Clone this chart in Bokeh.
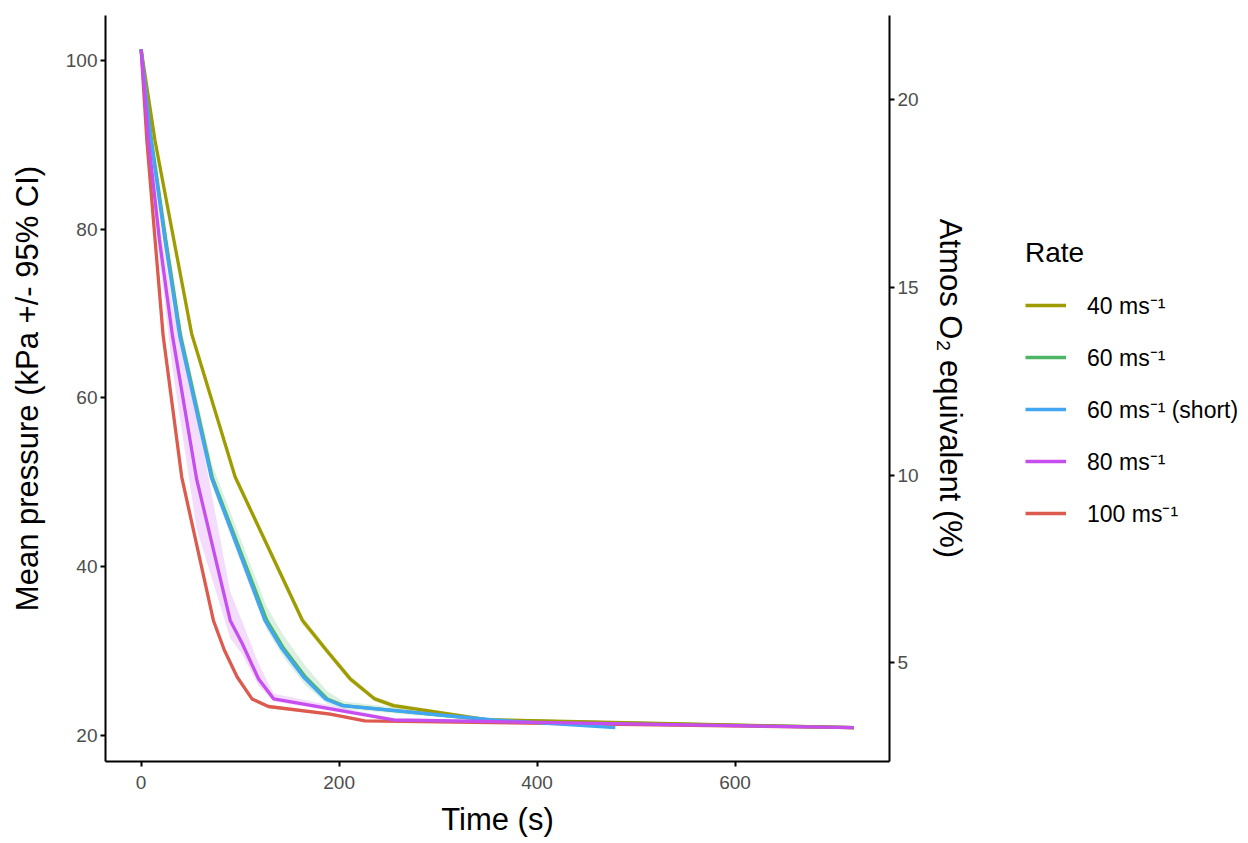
from bokeh.plotting import figure
from bokeh.layouts import row
from bokeh.models import Range1d, LinearAxis, Legend, LegendItem, FixedTicker
from bokeh.embed import file_html
from bokeh.resources import INLINE

# ---- data ----
rate_labels = ["40 ms⁻¹", "60 ms⁻¹", "60 ms⁻¹ (short)", "80 ms⁻¹", "100 ms⁻¹"]
rate_colors = ["#9E9C00", "#4DB666", "#43A6F2", "#C64EEF", "#DC5A4E"]

t40 = [0, 14, 51, 95, 163, 187, 211, 236, 255, 349, 720]
p40 = [101.3, 90.5, 67.6, 50.6, 33.6, 30.1, 26.7, 24.3, 23.5, 21.85, 20.9]
lo40 = [101.3, 90.1, 67.1, 50.1, 33.1, 29.7, 26.3, 24.0, 23.2, 21.7, 20.8]
hi40 = [101.3, 90.9, 68.1, 51.1, 34.1, 30.5, 27.1, 24.6, 23.8, 22.0, 21.0]

t60 = [0, 10.5, 25, 40, 72, 127, 144, 166, 188, 205, 356, 720]
p60 = [101.3, 90.5, 78.7, 67.3, 50.5, 33.6, 30.3, 26.9, 24.3, 23.5, 21.75, 20.9]
lo60 = [101.3, 90.0, 78.0, 66.5, 49.5, 32.5, 29.2, 25.9, 23.7, 23.1, 21.6, 20.8]
hi60 = [101.3, 91.0, 79.5, 68.3, 52.0, 35.2, 31.8, 28.2, 25.2, 24.0, 21.9, 21.0]

t60s = [0, 10, 24, 39, 71, 125, 142, 164, 186, 203, 356, 479]
p60s = [101.3, 90.5, 78.7, 67.3, 50.5, 33.6, 30.3, 26.9, 24.3, 23.5, 21.8, 20.9]

t80 = [0, 7.4, 18.5, 31.6, 56, 90, 102, 118.5, 134, 255, 720]
p80 = [101.3, 90.5, 78.7, 67.4, 50.4, 33.6, 30.9, 26.7, 24.3, 21.8, 20.9]
lo80 = [101.3, 89.5, 76.5, 63.5, 44.5, 31.5, 29.6, 25.9, 24.0, 21.7, 20.8]
hi80 = [101.3, 91.5, 81.0, 71.0, 58.0, 37.0, 33.5, 28.5, 24.9, 22.0, 21.0]

t100 = [0, 5.8, 14.1, 22.2, 41, 73, 84, 97, 112, 128.5, 191, 226, 720]
p100 = [101.3, 90.5, 78.7, 67.4, 50.6, 33.6, 30.1, 26.9, 24.3, 23.4, 22.5, 21.7, 20.9]
lo100 = [101.3, 90.2, 78.4, 67.1, 50.3, 33.3, 29.8, 26.6, 24.1, 23.2, 22.3, 21.6, 20.8]
hi100 = [101.3, 90.8, 79.0, 67.7, 50.9, 33.9, 30.4, 27.2, 24.5, 23.6, 22.7, 21.8, 21.0]

x_ticks = [0, 200, 400, 600]
y_ticks = [20, 40, 60, 80, 100]
o2_ticks = [5, 10, 15, 20]

FONT = "Liberation Sans"

p = figure(width=1000, height=841, output_backend="svg", toolbar_location=None,
           x_range=Range1d(-36, 756), y_range=Range1d(16.88, 105.32),
           min_border_left=105, min_border_right=111, min_border_top=15, min_border_bottom=80)
p.extra_y_ranges = {"o2": Range1d(2.37, 22.24)}
p.outline_line_color = None
p.background_fill_color = "white"
p.border_fill_color = "white"
p.xgrid.visible = False
p.ygrid.visible = False

# ribbons
ribbons = [(t40, lo40, hi40, 0), (t60, lo60, hi60, 1), (t80, lo80, hi80, 3), (t100, lo100, hi100, 4)]
for tt, lo, hi, ci in ribbons:
    p.varea(x=tt, y1=lo, y2=hi, fill_color=rate_colors[ci], fill_alpha=0.2)

lw = 3.3
p.line(t100, p100, line_color=rate_colors[4], line_width=lw)
p.line(t60, p60, line_color=rate_colors[1], line_width=lw)
p.line(t40, p40, line_color=rate_colors[0], line_width=lw)
p.line(t60s, p60s, line_color=rate_colors[2], line_width=lw)
p.line(t80, p80, line_color=rate_colors[3], line_width=lw)

def style_axis(ax, ticks):
    ax.ticker = FixedTicker(ticks=ticks)
    ax.axis_line_color = "black"
    ax.axis_line_width = 2
    ax.major_tick_line_color = "black"
    ax.major_tick_line_width = 2
    ax.major_tick_out = 5
    ax.major_tick_in = 0
    ax.minor_tick_line_color = None
    ax.major_label_text_font = FONT
    ax.major_label_text_font_size = "19px"
    ax.major_label_text_color = "#4D4D4D"
    ax.axis_label_text_font = FONT
    ax.axis_label_text_font_size = "31px"
    ax.axis_label_text_font_style = "normal"
    ax.axis_label_text_color = "black"

xa = p.xaxis[0]
style_axis(xa, x_ticks)
xa.axis_label = "Time (s)"
xa.major_label_standoff = 9
xa.axis_label_standoff = 10

ya = p.yaxis[0]
style_axis(ya, y_ticks)
ya.axis_label = "Mean pressure (kPa +/- 95% CI)"
ya.major_label_standoff = 3
ya.axis_label_standoff = 18

ra = LinearAxis(y_range_name="o2")
style_axis(ra, o2_ticks)
ra.axis_label = "Atmos O₂ equivalent (%)"
ra.major_label_standoff = 3
ra.axis_label_standoff = 11
p.add_layout(ra, "right")

# legend panel (separate blank figure to the right)
q = figure(width=246, height=841, output_backend="svg", toolbar_location=None,
           x_range=Range1d(0, 1), y_range=Range1d(0, 1),
           x_axis_location=None, y_axis_location=None,
           min_border_left=0, min_border_right=0, min_border_top=0, min_border_bottom=0)
q.outline_line_color = None
q.xgrid.visible = False
q.ygrid.visible = False
keys = [q.line([5, 6], [5, 6], line_color=c, line_width=lw) for c in rate_colors]
items = [LegendItem(label=lab, renderers=[k]) for lab, k in zip(rate_labels, keys)]
leg = Legend(items=items, location=(25, 228), title="Rate",
             title_text_font=FONT, title_text_font_size="28px", title_text_font_style="normal",
             title_text_color="black", title_standoff=16,
             label_text_font=FONT, label_text_font_size="23px", label_text_color="black",
             glyph_width=41, glyph_height=40, spacing=12, label_standoff=21,
             padding=0, margin=0, border_line_color=None, background_fill_alpha=0)
q.add_layout(leg, "center")

layout = row(p, q)
open("out.html", "w").write(file_html(layout, INLINE))
